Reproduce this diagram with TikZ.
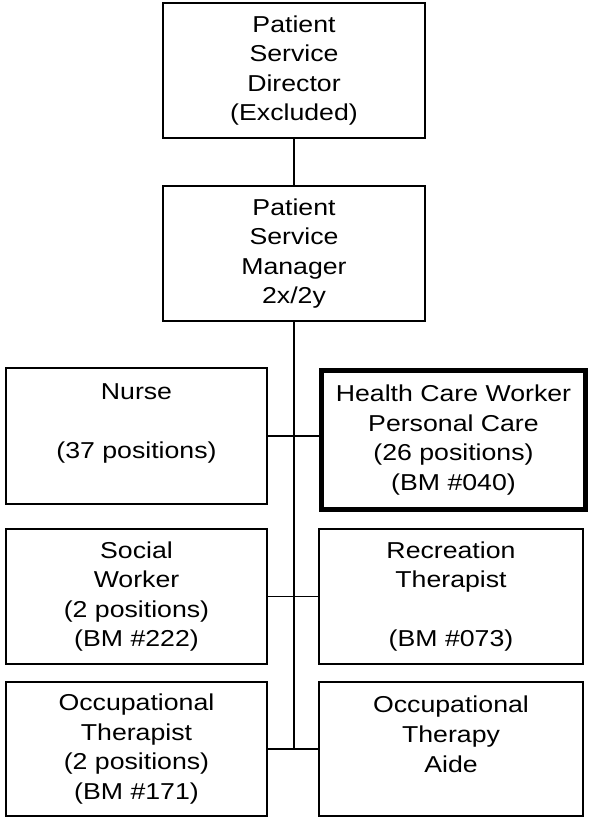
\documentclass[tikz,border=0pt]{standalone}
\usepackage{fontspec}
\setmainfont{Liberation Sans}[FakeStretch=1.16]
\begin{document}
\begin{tikzpicture}[x=1pt,y=-1pt,
  box/.style={draw=black,line width=1.4pt,rectangle,inner sep=0pt,align=center,
    font=\fontsize{23}{29.6}\selectfont},
  thickbox/.style={box,line width=5pt},
  link/.style={draw=black,line width=1.4pt},
  trunk/.style={draw=black,line width=2pt}]
\useasboundingbox (0,0) rectangle (589,817);
\fill[white] (0,0) rectangle (589,817);
\node[box,minimum width=262pt,minimum height=135pt] (dir) at (294,70.5)
  {Patient\\Service\\Director\\(Excluded)};
\node[box,minimum width=262pt,minimum height=135pt] (mgr) at (294,253.5)
  {Patient\\Service\\Manager\\2x/2y};
\node[box,minimum width=261pt,minimum height=136pt] (nurse) at (136.5,436)
  {Nurse\\\mbox{}\\(37 positions)\\\mbox{}};
\node[thickbox,minimum width=264pt,minimum height=139pt] (hcw) at (453.5,440)
  {Health Care Worker\\Personal Care\\(26 positions)\\(BM \#040)};
\node[box,minimum width=261pt,minimum height=135pt] (social) at (136.5,596.5)
  {Social\\Worker\\(2 positions)\\(BM \#222)};
\node[box,minimum width=264pt,minimum height=135pt] (rec) at (451,596.5)
  {Recreation\\Therapist\\\mbox{}\\(BM \#073)};
\node[box,minimum width=261pt,minimum height=134pt] (occ) at (136.5,749)
  {Occupational\\Therapist\\(2 positions)\\(BM \#171)};
\node[box,minimum width=264pt,minimum height=134pt] (ota) at (451,749)
  {Occupational\\Therapy\\Aide\\\mbox{}};
\coordinate (trunkend) at (mgr.south |- occ.east);
\draw[link] (dir.south) -- (mgr.north);
\draw[trunk] (mgr.south) -- (trunkend);
\draw[link] (nurse.east) -- (nurse.east -| hcw.west);
\draw[link] (social.east) -- (rec.west);
\draw[link] (occ.east) -- (ota.west);
\end{tikzpicture}
\end{document}
